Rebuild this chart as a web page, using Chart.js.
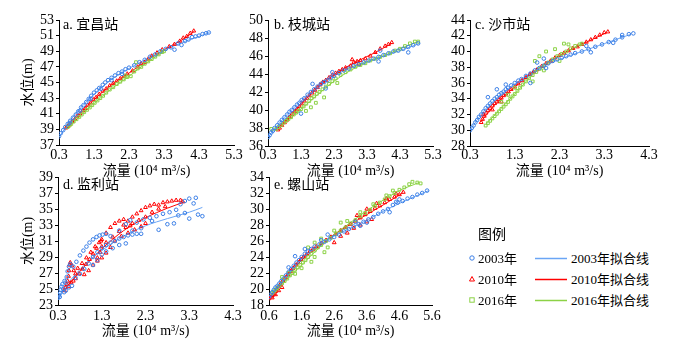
<!DOCTYPE html>
<html>
<head>
<meta charset="utf-8">
<script src="https://cdn.jsdelivr.net/npm/chart.js@4.4.1/dist/chart.umd.min.js"></script>
<style>
	body { margin: 0; background: #fff; width: 680px; height: 343px; overflow: hidden; position: relative;
		font-family: "Liberation Serif", "Noto Sans CJK SC", serif; }
	canvas { position: absolute; }
	.lbl { position: absolute; font-size: 14px; color: #000; white-space: nowrap; line-height: 1; }
	.leg { position: absolute; font-size: 13px; color: #000; white-space: nowrap; line-height: 1; }
</style>
</head>
<body>
<canvas id="pa" width="246" height="180" style="left:0;top:0"></canvas>
<canvas id="pb" width="204" height="180" style="left:246px;top:0"></canvas>
<canvas id="pc" width="230" height="180" style="left:450px;top:0"></canvas>
<canvas id="pd" width="246" height="183" style="left:0;top:160px"></canvas>
<canvas id="pe" width="204" height="183" style="left:246px;top:160px"></canvas>

<div class="lbl" style="left:63px;top:18px">a. 宜昌站</div>
<div class="lbl" style="left:274px;top:18px">b. 枝城站</div>
<div class="lbl" style="left:475px;top:18px">c. 沙市站</div>
<div class="lbl" style="left:63px;top:178px">d. 监利站</div>
<div class="lbl" style="left:274px;top:178px">e. 螺山站</div>

<div class="leg" style="left:478px;top:228px;font-size:14px">图例</div>
<svg style="position:absolute;left:466px;top:250px" width="14" height="60">
	<circle cx="6" cy="8" r="2.2" fill="none" stroke="#3b7fe6" stroke-width="1"/>
	<polygon points="6,26.5 8.5,31 3.5,31" fill="none" stroke="#ff0000" stroke-width="1"/>
	<rect x="3.8" y="47.8" width="4.4" height="4.4" fill="none" stroke="#8cd246" stroke-width="1"/>
</svg>
<div class="leg" style="left:478px;top:252px">2003年</div>
<div class="leg" style="left:478px;top:273px">2010年</div>
<div class="leg" style="left:478px;top:294px">2016年</div>
<svg style="position:absolute;left:534px;top:250px" width="36" height="60">
	<line x1="1" y1="8.5" x2="33" y2="8.5" stroke="#6aa5f5" stroke-width="1.5"/>
	<line x1="1" y1="29.5" x2="33" y2="29.5" stroke="#ff0000" stroke-width="1.5"/>
	<line x1="1" y1="50.5" x2="33" y2="50.5" stroke="#8cd246" stroke-width="1.5"/>
</svg>
<div class="leg" style="left:571px;top:252px">2003年拟合线</div>
<div class="leg" style="left:571px;top:273px">2010年拟合线</div>
<div class="leg" style="left:571px;top:294px">2016年拟合线</div>

<script>
// 流量 x (10^4 m3/s), 水位 y (m)
const xTicksA = [0.3, 1.3, 2.3, 3.3, 4.3, 5.3];
const xTicksC = [0.3, 1.3, 2.3, 3.3, 4.3];
const xTicksE = [0.6, 1.6, 2.6, 3.6, 4.6, 5.6];
const yTicksA = [37, 39, 41, 43, 45, 47, 49, 51, 53];
const yTicksB = [36, 38, 40, 42, 44, 46, 48, 50];
const yTicksC = [28, 30, 32, 34, 36, 38, 40, 42, 44];
const yTicksD = [23, 25, 27, 29, 31, 33, 35, 37, 39];
const yTicksE = [18, 20, 22, 24, 26, 28, 30, 32, 34];

// a. 宜昌站
const yichang2003 = [[0.30,38.1],[0.35,38.5],[0.42,38.9],[0.48,39.3],[0.55,39.7],[0.62,40.1],[0.70,40.5],[0.78,40.9],[0.85,41.3],[0.93,41.8],[1.00,42.1],[1.08,42.5],[1.15,42.9],[1.22,43.3],[1.30,43.7],[1.38,44.0],[1.45,44.3],[1.55,44.7],[1.62,45.0],[1.70,45.3],[1.80,45.6],[1.90,45.9],[2.00,46.2],[2.10,46.4],[2.20,46.7],[2.30,46.9],[2.45,47.2],[2.60,47.6],[2.75,47.9],[2.90,48.3],[3.05,48.6],[3.20,49.0],[3.35,49.3],[3.50,49.5],[3.60,49.2],[3.70,50.0],[3.80,49.8],[3.90,50.3],[4.00,50.5],[4.10,50.8],[4.20,50.9],[4.30,51.0],[4.40,51.2],[4.50,51.3],[4.58,51.4],[0.60,39.8],[0.90,41.4],[1.20,42.9],[1.50,44.2],[1.80,45.3],[2.10,46.1]];
const yichang2010 = [[0.50,39.2],[0.55,39.4],[0.60,39.6],[0.68,40.0],[0.75,40.3],[0.82,40.7],[0.90,41.0],[0.98,41.4],[1.05,41.7],[1.12,42.1],[1.20,42.4],[1.28,42.8],[1.36,43.1],[1.45,43.5],[1.55,43.9],[1.65,44.2],[1.75,44.6],[1.85,44.9],[1.95,45.2],[2.05,45.5],[2.15,45.8],[2.25,46.1],[2.40,46.5],[2.55,47.0],[2.65,47.4],[2.75,47.6],[2.85,48.0],[2.95,48.4],[3.10,48.8],[3.25,49.2],[3.45,49.6],[3.60,49.9],[3.75,50.3],[3.85,50.7],[3.95,50.9],[4.05,51.3],[4.15,51.6]];
const yichang2016 = [[0.55,39.3],[0.60,39.5],[0.65,39.7],[0.72,40.0],[0.80,40.3],[0.88,40.6],[0.95,40.9],[1.02,41.2],[1.10,41.5],[1.18,41.8],[1.25,42.1],[1.32,42.4],[1.40,42.7],[1.48,43.0],[1.56,43.3],[1.65,43.7],[1.75,44.1],[1.85,44.4],[1.95,44.8],[2.05,45.1],[2.15,45.4],[2.25,45.7],[2.35,45.8],[2.45,46.4],[2.55,46.8],[2.65,47.0],[2.75,47.4],[2.85,47.7],[2.95,48.0],[3.05,48.3],[3.15,48.6],[3.25,48.9],[3.30,49.0],[2.50,47.6],[2.20,45.9]];
const yichangFit2003 = [[0.3,38.0],[0.7,40.6],[1.3,43.5],[1.8,45.4],[2.3,46.8],[2.8,48.0],[3.3,49.1],[3.8,50.1],[4.3,50.9],[4.6,51.4]];
const yichangFit2010 = [[0.5,39.0],[0.9,41.0],[1.3,42.8],[1.8,44.7],[2.3,46.2],[2.8,47.8],[3.3,49.2],[3.8,50.4],[4.15,51.5]];
const yichangFit2016 = [[0.55,39.2],[0.9,40.7],[1.3,42.3],[1.8,44.2],[2.3,45.8],[2.8,47.5],[3.3,49.0]];

// b. 枝城站
const zhicheng2003 = [[0.30,37.0],[0.35,37.2],[0.40,37.5],[0.45,37.7],[0.50,38.0],[0.58,38.3],[0.65,38.6],[0.72,38.9],[0.80,39.2],[0.88,39.5],[0.95,39.8],[1.02,40.0],[1.10,40.3],[1.18,40.6],[1.25,40.8],[1.32,41.1],[1.40,41.3],[1.50,41.7],[1.60,42.0],[1.70,42.3],[1.80,42.6],[1.90,42.9],[2.00,43.1],[2.10,43.3],[2.20,43.6],[2.30,43.8],[2.45,44.1],[2.60,44.4],[2.75,44.6],[2.90,44.9],[3.05,45.1],[3.20,45.3],[3.35,45.5],[3.50,45.7],[3.65,45.9],[3.80,46.1],[3.95,46.3],[4.10,46.5],[4.25,46.6],[4.40,46.8],[4.55,47.0],[4.70,47.2],[4.85,47.4],[1.30,39.6],[1.65,42.9],[2.25,44.2],[3.65,45.4],[3.70,46.6],[4.55,46.4],[2.05,42.4]];
const zhicheng2010 = [[0.60,37.8],[0.65,38.0],[0.72,38.3],[0.80,38.6],[0.88,38.9],[0.95,39.2],[1.02,39.5],[1.10,39.8],[1.18,40.1],[1.25,40.4],[1.32,40.7],[1.40,41.0],[1.48,41.3],[1.56,41.6],[1.64,41.9],[1.72,42.2],[1.80,42.5],[1.88,42.8],[1.96,43.1],[2.05,43.3],[2.15,43.6],[2.25,43.9],[2.35,44.1],[2.45,44.3],[2.55,44.5],[2.65,44.7],[2.80,44.9],[2.90,45.3],[3.00,45.4],[3.10,45.5],[3.25,45.7],[3.40,46.0],[3.55,46.4],[3.70,46.8],[3.85,47.1],[3.95,47.3],[4.05,47.5],[2.85,45.6],[3.05,45.1]];
const zhicheng2016 = [[0.40,37.9],[0.55,37.9],[0.62,38.1],[0.70,38.3],[0.78,38.6],[0.85,38.8],[0.92,39.0],[1.00,39.2],[1.08,39.5],[1.15,39.7],[1.22,39.9],[1.30,40.1],[1.38,40.4],[1.46,40.7],[1.55,41.0],[1.62,41.3],[1.70,41.5],[1.78,41.8],[1.86,42.0],[1.95,42.3],[2.05,42.6],[2.15,42.9],[2.25,43.2],[2.35,43.5],[2.50,43.9],[2.65,44.2],[2.80,44.5],[2.95,44.8],[3.10,45.0],[3.25,45.2],[3.40,45.5],[3.55,45.7],[3.70,45.9],[3.85,46.1],[4.00,46.3],[4.15,46.6],[4.30,46.8],[4.45,47.1],[4.60,47.4],[4.75,47.6],[4.85,47.6],[1.45,39.9],[1.60,40.3],[2.00,41.4],[1.75,40.8],[2.40,43.0]];
const zhichengFit2003 = [[0.3,37.0],[0.8,39.2],[1.3,41.0],[1.8,42.6],[2.3,43.8],[2.8,44.7],[3.3,45.4],[3.8,46.0],[4.3,46.6],[4.9,47.4]];
const zhichengFit2010 = [[0.6,37.8],[1.0,39.4],[1.5,41.4],[2.0,43.1],[2.5,44.4],[3.0,45.4],[3.5,46.3],[4.05,47.4]];
const zhichengFit2016 = [[0.4,37.6],[0.8,38.6],[1.3,40.1],[1.8,41.7],[2.3,43.2],[2.8,44.4],[3.3,45.3],[3.8,46.0],[4.3,46.8],[4.85,47.6]];

// c. 沙市站
const shashi2003 = [[0.30,30.0],[0.34,30.3],[0.38,30.6],[0.42,31.0],[0.46,31.3],[0.50,31.7],[0.55,32.0],[0.60,32.4],[0.65,32.8],[0.70,33.1],[0.75,33.4],[0.80,33.7],[0.85,34.0],[0.90,34.2],[0.95,34.5],[1.00,34.7],[1.05,34.9],[1.10,35.2],[1.15,35.4],[1.22,35.7],[1.30,36.0],[1.38,36.3],[1.45,36.5],[1.55,36.9],[1.65,37.2],[1.75,37.6],[1.85,37.9],[1.95,38.2],[2.05,38.5],[2.15,38.8],[2.25,39.0],[2.35,39.2],[2.45,39.4],[2.55,39.6],[2.65,39.8],[2.80,40.0],[2.95,40.3],[3.10,40.6],[3.25,40.9],[3.40,41.2],[3.55,41.5],[3.70,41.8],[3.85,42.2],[3.95,42.3],[0.70,34.2],[0.90,35.2],[1.10,35.8],[1.65,36.0],[2.00,37.9],[1.80,38.6],[1.95,39.1],[3.00,39.9],[3.50,41.1],[3.70,42.1],[2.90,40.7]];
const shashi2010 = [[0.55,31.0],[0.58,31.4],[0.62,31.8],[0.66,32.2],[0.70,32.5],[0.75,32.8],[0.80,33.1],[0.85,33.4],[0.90,33.6],[0.95,33.9],[1.00,34.1],[1.05,34.4],[1.10,34.6],[1.16,34.9],[1.22,35.2],[1.30,35.5],[1.38,35.9],[1.46,36.3],[1.55,36.7],[1.64,37.1],[1.72,37.4],[1.80,37.7],[1.90,38.1],[2.00,38.5],[2.10,38.8],[2.20,39.2],[2.30,39.5],[2.40,39.8],[2.50,40.1],[2.60,40.4],[2.70,40.6],[2.80,40.9],[2.90,41.2],[3.00,41.5],[3.10,41.8],[3.20,42.1],[3.30,42.4],[3.38,42.5],[0.60,32.0],[0.80,32.6],[1.00,33.6]];
const shashi2016 = [[0.65,30.6],[0.70,30.9],[0.75,31.2],[0.80,31.5],[0.85,31.8],[0.90,32.1],[0.95,32.4],[1.00,32.7],[1.05,33.0],[1.10,33.3],[1.15,33.6],[1.20,34.0],[1.25,34.3],[1.30,34.6],[1.36,35.0],[1.42,35.4],[1.48,35.8],[1.55,36.2],[1.62,36.6],[1.70,37.0],[1.78,37.4],[1.86,37.8],[1.95,38.2],[2.05,38.6],[2.15,39.0],[2.25,39.4],[2.35,39.7],[2.45,40.0],[2.55,40.4],[2.65,40.7],[2.75,40.9],[2.80,41.0],[1.00,33.6],[1.15,34.5],[1.30,35.4],[1.75,38.8],[1.85,39.4],[1.70,36.2],[1.95,37.6],[2.20,40.3],[2.00,40.0],[2.50,40.9],[2.30,38.8],[2.40,41.0]];
const shashiFit2003 = [[0.3,30.0],[0.6,32.4],[1.0,34.6],[1.3,35.9],[1.8,37.7],[2.3,39.0],[2.8,40.0],[3.3,41.0],[3.9,42.2]];
const shashiFit2010 = [[0.55,31.1],[0.8,32.9],[1.3,35.5],[1.8,37.7],[2.3,39.5],[2.8,40.9],[3.35,42.4]];
const shashiFit2016 = [[0.65,30.7],[1.0,32.8],[1.3,34.6],[1.8,37.6],[2.3,39.5],[2.8,41.0]];

// d. 监利站 (no 2016 data)
const jianli2003 = [[0.30,23.9],[0.32,24.2],[0.34,24.0],[0.35,24.5],[0.36,24.9],[0.38,25.3],[0.40,25.6],[0.42,25.0],[0.44,24.6],[0.45,26.0],[0.47,25.8],[0.50,26.5],[0.52,27.2],[0.55,27.8],[0.58,28.1],[0.48,24.8],[0.55,25.2],[0.62,25.4],[0.65,27.8],[0.72,28.4],[0.80,29.2],[0.88,29.8],[0.95,30.3],[1.02,30.8],[1.10,31.2],[1.18,31.5],[1.25,31.7],[1.32,31.8],[1.40,31.9],[0.70,26.4],[0.80,26.9],[0.90,27.5],[1.00,28.2],[1.10,29.0],[1.20,29.6],[1.30,30.1],[1.40,30.5],[1.50,30.8],[1.60,31.0],[1.70,31.3],[1.80,31.5],[1.90,31.7],[2.00,31.8],[2.10,31.9],[2.20,31.9],[1.10,28.0],[1.20,28.6],[1.30,29.3],[1.40,29.7],[1.55,30.1],[1.70,30.5],[1.85,30.7],[1.50,31.6],[1.70,32.3],[1.85,33.1],[1.95,33.6],[2.10,33.3],[2.25,33.7],[2.40,33.9],[2.55,34.1],[2.70,34.4],[2.85,34.6],[3.00,34.9],[3.10,35.6],[3.20,36.0],[3.30,36.3],[3.45,36.4],[3.40,35.7],[3.50,34.3],[3.60,34.1],[3.30,33.8],[2.95,33.2],[2.80,33.1],[2.60,32.4],[2.45,33.5],[2.20,32.6],[2.00,32.3],[3.05,34.2],[3.20,34.5]];
const jianli2010 = [[0.45,24.8],[0.47,25.2],[0.50,25.6],[0.52,26.0],[0.54,26.6],[0.55,27.3],[0.56,28.0],[0.58,28.3],[0.62,27.9],[0.66,27.3],[0.70,26.9],[0.55,25.3],[0.60,25.8],[0.65,26.0],[0.70,26.3],[0.78,26.9],[0.86,27.5],[0.94,28.1],[1.02,28.7],[1.10,29.4],[1.18,30.1],[1.24,30.8],[1.28,31.0],[1.30,30.3],[1.26,29.6],[1.20,28.9],[0.75,27.6],[0.85,28.2],[0.95,28.9],[1.05,29.6],[1.15,30.3],[0.90,26.8],[1.00,27.3],[1.10,28.0],[1.20,28.5],[1.30,28.9],[1.40,29.5],[1.50,30.2],[1.30,31.2],[1.40,32.0],[1.50,32.7],[1.60,33.2],[1.70,33.5],[1.80,33.7],[1.90,33.5],[2.00,34.0],[2.10,34.4],[2.20,34.8],[2.30,35.2],[2.40,35.4],[2.50,35.6],[2.60,35.5],[2.70,35.8],[2.80,35.9],[2.90,36.0],[3.00,36.1],[3.10,36.1],[3.15,35.9],[1.40,30.8],[1.55,31.5],[1.70,32.2],[1.85,32.7],[2.00,33.2],[2.15,33.6],[2.30,34.0],[2.45,34.6],[2.60,35.0],[2.75,35.3],[1.60,31.0],[1.75,31.6],[1.90,32.0],[2.05,32.4],[2.20,32.8],[2.30,33.2],[1.80,33.0],[1.95,32.9]];
const jianliFit2003 = [[0.3,24.0],[0.6,26.2],[1.0,28.5],[1.3,29.8],[1.8,31.6],[2.3,32.9],[2.8,33.8],[3.3,34.6],[3.6,35.2]];
const jianliFit2010 = [[0.45,24.9],[0.8,27.2],[1.3,30.0],[1.8,32.3],[2.3,33.9],[2.8,35.1],[3.2,35.9]];

// e. 螺山站
const luoshan2003 = [[0.60,19.0],[0.65,19.3],[0.70,19.6],[0.75,19.9],[0.80,20.2],[0.86,20.4],[0.92,20.7],[0.98,21.0],[1.05,21.3],[1.12,21.7],[1.20,22.1],[1.28,22.5],[1.36,22.9],[1.44,23.3],[1.52,23.6],[1.60,24.0],[1.70,24.4],[1.80,24.7],[1.90,25.0],[2.00,25.3],[2.15,25.6],[2.30,25.9],[2.45,26.2],[2.60,26.5],[2.75,26.8],[2.90,27.2],[3.05,27.5],[3.20,27.8],[3.35,28.1],[3.50,28.4],[3.65,28.7],[3.80,29.0],[3.95,29.4],[4.10,29.7],[4.25,30.0],[4.40,30.5],[4.55,30.8],[4.70,31.0],[4.85,31.3],[5.00,31.5],[5.15,31.8],[5.30,32.0],[5.45,32.3],[1.40,24.1],[1.70,25.0],[2.40,26.8],[3.25,28.4],[3.40,27.9],[3.60,28.3],[4.30,29.6],[4.50,30.9],[4.60,31.2],[1.20,22.7],[2.20,26.1]];
const luoshan2010 = [[0.60,18.8],[0.65,19.0],[0.70,19.2],[0.75,19.4],[0.80,19.7],[0.85,20.0],[0.90,20.3],[0.95,20.6],[1.02,21.0],[1.10,21.4],[1.18,21.8],[1.26,22.2],[1.34,22.6],[1.42,23.0],[1.50,23.3],[1.58,23.7],[1.66,24.0],[1.75,24.3],[1.85,24.7],[1.95,25.0],[2.05,25.3],[2.20,25.7],[2.35,26.1],[2.50,26.5],[2.65,26.9],[2.80,27.3],[2.95,27.7],[3.10,28.1],[3.25,28.5],[3.40,28.9],[3.55,29.3],[3.70,29.7],[3.85,30.1],[4.00,30.4],[4.15,30.8],[4.30,31.2],[4.45,31.5],[4.60,31.8],[4.72,32.1],[0.70,18.9],[0.80,19.3],[0.90,19.8],[1.00,20.2],[2.60,25.8],[2.80,26.6],[3.00,27.0],[3.20,27.6],[3.40,28.0],[3.60,28.4],[3.75,28.7],[3.30,29.2],[3.60,30.0],[3.90,30.7],[4.20,31.3],[4.50,31.9]];
const luoshan2016 = [[0.70,19.5],[0.75,19.7],[0.80,19.9],[0.85,20.1],[0.92,20.4],[1.00,20.7],[1.08,21.0],[1.16,21.3],[1.24,21.7],[1.32,22.0],[1.40,22.4],[1.48,22.7],[1.56,23.0],[1.64,23.3],[1.72,23.6],[1.80,24.0],[1.90,24.4],[2.00,24.8],[2.10,25.2],[2.20,25.5],[2.35,26.0],[2.50,26.4],[2.65,26.9],[2.80,27.3],[2.95,27.7],[3.10,28.2],[3.25,28.6],[3.40,29.1],[3.55,29.5],[3.70,29.9],[3.85,30.4],[4.00,30.8],[4.15,31.2],[4.30,31.6],[4.45,32.0],[4.60,32.4],[4.75,32.7],[4.90,33.1],[5.00,33.4],[5.15,33.3],[5.25,33.2],[1.00,21.5],[1.20,22.0],[1.40,21.9],[1.60,22.6],[1.90,23.4],[2.00,24.0],[2.30,24.6],[2.40,25.2],[2.20,26.3],[2.60,27.3],[2.80,28.3],[3.00,28.5],[3.40,29.6],[3.80,30.6],[4.20,31.7],[4.40,32.3],[1.80,25.2],[2.00,25.8]];
const luoshanFit2003 = [[0.6,19.0],[1.0,21.1],[1.6,23.9],[2.1,25.4],[2.6,26.6],[3.1,27.6],[3.6,28.6],[4.1,29.7],[4.6,30.7],[5.1,31.6],[5.5,32.3]];
const luoshanFit2010 = [[0.6,18.9],[1.0,20.7],[1.6,23.6],[2.1,25.2],[2.6,26.8],[3.1,28.1],[3.6,29.3],[4.1,30.5],[4.7,32.0]];
const luoshanFit2016 = [[0.7,19.4],[1.0,20.6],[1.6,23.0],[2.1,25.0],[2.6,26.8],[3.1,28.3],[3.6,29.8],[4.1,31.1],[4.6,32.3],[5.2,33.3]];

const BLUE = "#3b7fe6", BLUE_LINE = "#6aa5f5", RED = "#ff0000", GREEN = "#8cd246";
const tickFont = { family: "'Liberation Serif', serif", size: 14 };
const titleFont = { family: "'Liberation Serif', 'Noto Sans CJK SC', serif", size: 14 };

function toXY(arr) {
	return arr.map((p) => ({ x: p[0], y: p[1] }));
}

function pointSet(arr, color, style, r) {
	return {
		type: "scatter",
		data: toXY(arr),
		pointStyle: style,
		pointRadius: r,
		borderColor: color,
		backgroundColor: "rgba(255,255,255,0)",
		borderWidth: 1,
	};
}

function fitSet(arr, color) {
	return {
		type: "line",
		data: toXY(arr),
		borderColor: color,
		borderWidth: 1,
		pointRadius: 0,
		fill: false,
		cubicInterpolationMode: "monotone",
	};
}

function panel(id, o) {
	const datasets = [];
	if (o.p03) datasets.push(pointSet(o.p03, BLUE, "circle", 1.8));
	if (o.p16) datasets.push(pointSet(o.p16, GREEN, "rect", 2));
	if (o.p10) datasets.push(pointSet(o.p10, RED, "triangle", 2.2));
	if (o.f03) datasets.push(fitSet(o.f03, BLUE_LINE));
	if (o.f16) datasets.push(fitSet(o.f16, GREEN));
	if (o.f10) datasets.push(fitSet(o.f10, RED));

	new Chart(document.getElementById(id), {
		type: "scatter",
		data: { datasets },
		options: {
			responsive: false,
			animation: false,
			devicePixelRatio: 1,
			layout: { autoPadding: false, padding: o.pad },
			plugins: { legend: { display: false }, tooltip: { enabled: false } },
			scales: {
				x: {
					type: "linear",
					min: o.xt[0],
					max: o.xt[o.xt.length - 1],
					afterBuildTicks: (s) => { s.ticks = o.xt.map((v) => ({ value: v })); },
					afterFit: (s) => { s.height = o.xh; },
					ticks: { callback: (v) => Number(v).toFixed(1), font: tickFont, color: "#000", padding: o.tp, maxRotation: 0, autoSkip: false },
					grid: { drawOnChartArea: false, drawTicks: false, color: "#000" },
					border: { color: "#000" },
					title: { display: true, text: "流量 (10⁴ m³/s)", font: titleFont, color: "#000", padding: 0 },
				},
				y: {
					type: "linear",
					min: o.yt[0],
					max: o.yt[o.yt.length - 1],
					afterBuildTicks: (s) => { s.ticks = o.yt.map((v) => ({ value: v })); },
					afterFit: (s) => { s.width = o.yw; },
					ticks: { font: tickFont, color: "#000", padding: 2, autoSkip: false },
					grid: { drawOnChartArea: false, tickLength: 3, color: "#000" },
					border: { color: "#000" },
					title: { display: !!o.ytitle, text: "水位(m)", font: titleFont, color: "#000", padding: { top: 20, bottom: 0 } },
				},
			},
		},
	});
}

panel("pa", { p03: yichang2003, p10: yichang2010, p16: yichang2016, f03: yichangFit2003, f10: yichangFit2010, f16: yichangFit2016,
	xt: xTicksA, yt: yTicksA, pad: { left: 0, top: 20, right: 12, bottom: 0 }, yw: 59, xh: 35, tp: 2, ytitle: true });
panel("pb", { p03: zhicheng2003, p10: zhicheng2010, p16: zhicheng2016, f03: zhichengFit2003, f10: zhichengFit2010, f16: zhichengFit2016,
	xt: xTicksA, yt: yTicksB, pad: { left: 0, top: 20, right: 17, bottom: 0 }, yw: 22, xh: 34, tp: 1 });
panel("pc", { p03: shashi2003, p10: shashi2010, p16: shashi2016, f03: shashiFit2003, f10: shashiFit2010, f16: shashiFit2016,
	xt: xTicksC, yt: yTicksC, pad: { left: 0, top: 20, right: 31, bottom: 0 }, yw: 20, xh: 34, tp: 1 });
panel("pd", { p03: jianli2003, p10: jianli2010, f03: jianliFit2003, f10: jianliFit2010,
	xt: xTicksC, yt: yTicksD, pad: { left: 0, top: 17, right: 13, bottom: 3 }, yw: 58, xh: 35, tp: 3, ytitle: true });
panel("pe", { p03: luoshan2003, p10: luoshan2010, p16: luoshan2016, f03: luoshanFit2003, f10: luoshanFit2010, f16: luoshanFit2016,
	xt: xTicksE, yt: yTicksE, pad: { left: 0, top: 17, right: 18, bottom: 3 }, yw: 23, xh: 35, tp: 3 });
</script>
</body>
</html>
